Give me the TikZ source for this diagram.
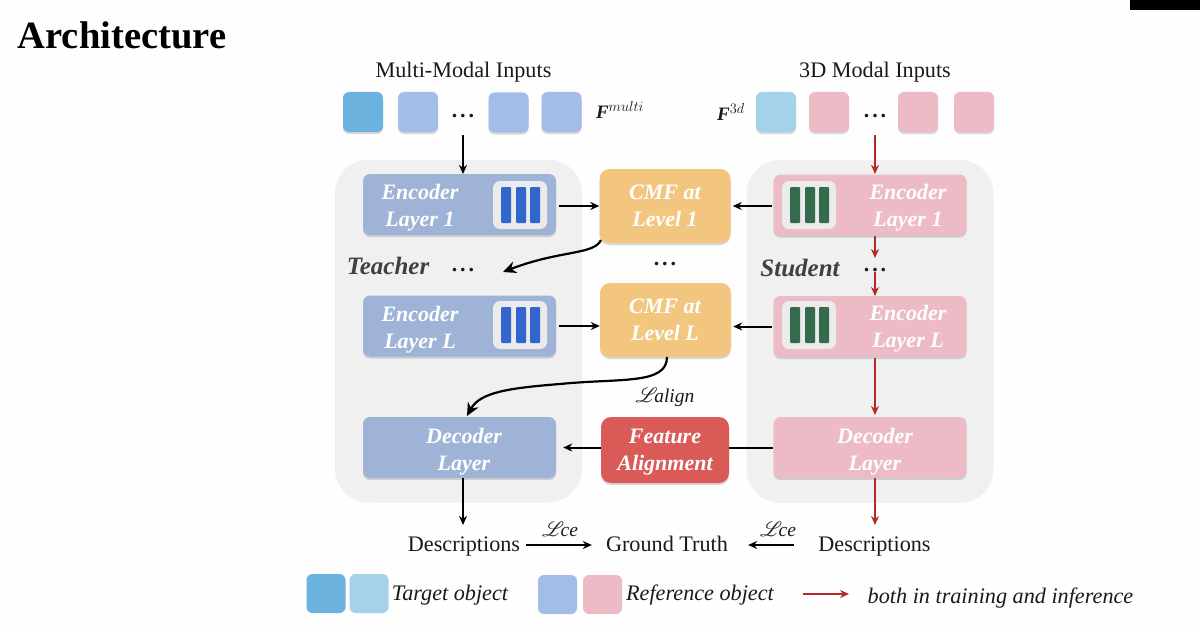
\documentclass[tikz,border=0pt]{standalone}
\usepackage{fontspec}
\usepackage{mathrsfs}
\setmainfont{Liberation Serif}
\usetikzlibrary{arrows.meta,shadows}
\definecolor{cTgtA}{HTML}{6CB2DE}
\definecolor{cTgtB}{HTML}{A5D2EA}
\definecolor{cRefA}{HTML}{A4BDE8}
\definecolor{cRefB}{HTML}{EDBBC6}
\definecolor{cEnc}{HTML}{9FB3D6}
\definecolor{cCmf}{HTML}{F3C680}
\definecolor{cAlign}{HTML}{DA5A58}
\definecolor{cPanel}{HTML}{F0F0F0}
\definecolor{cBlueBar}{HTML}{3366CC}
\definecolor{cGreenBar}{HTML}{336B4C}
\definecolor{cRedLine}{HTML}{B22A2A}
\definecolor{cInk}{HTML}{1A1A1A}
\newcommand{\threedots}{.\kern3pt.\kern3pt.}
\tikzset{
  softshadow/.style={drop shadow={shadow xshift=0pt,shadow yshift=-2pt,opacity=.25,fill=black!60}},
  sq/.style={minimum width=40pt,minimum height=40pt,inner sep=0pt,rounded corners=6pt,softshadow},
  legendsq/.style={minimum width=39pt,minimum height=39pt,inner sep=0pt,rounded corners=6pt},
  panel/.style={fill=cPanel,rounded corners=34pt,minimum width=247pt,minimum height=343pt,inner sep=0pt},
  block/.style={minimum width=193pt,minimum height=61pt,inner sep=0pt,rounded corners=7pt,softshadow},
  midbox/.style={minimum width=131pt,minimum height=74pt,inner sep=0pt,rounded corners=10pt,softshadow},
  iconbg/.style={fill=white!92!black,minimum width=54pt,minimum height=48pt,inner sep=0pt,rounded corners=7pt},
  barbox/.style={minimum width=10pt,minimum height=36pt,inner sep=0pt,rounded corners=1pt},
  boxtxt/.style={text=white,font=\fontsize{22}{27}\selectfont\itshape\bfseries,align=center,inner sep=0pt},
  plain/.style={text=cInk,font=\fontsize{22.2}{24}\selectfont,inner sep=0pt},
  itxt/.style={text=cInk,font=\fontsize{22.2}{24}\selectfont\itshape,inner sep=0pt},
  role/.style={text=black!75,font=\fontsize{25}{28}\selectfont\itshape\bfseries,inner sep=0pt},
  dotstxt/.style={text=cInk,font=\fontsize{22}{24}\selectfont\bfseries,inner sep=0pt},
  losstxt/.style={text=cInk,inner sep=0pt,font=\fontsize{19.5}{22}\selectfont\itshape},
  blk/.style={draw=black,line width=2pt,-{Stealth[length=9pt,width=8pt]}},
  blkc/.style={draw=black,line width=2.2pt,-{Stealth[length=13pt,width=12pt]}},
  redl/.style={draw=cRedLine,line width=2pt,-{Stealth[length=9pt,width=8pt]}},
}
\begin{document}
\begin{tikzpicture}[x=1pt,y=-1pt]
\useasboundingbox (0,0) rectangle (1200,626);
\fill[white!99.5!black] (0,0) rectangle (1200,626);
\fill[black] (1130,0) rectangle (1200,10);

\node[text=black,font=\fontsize{38.6}{42}\selectfont\bfseries,inner sep=0pt] (title) at (122,35) {Architecture};

% panels
\node[panel] (pl) at (458.5,331) {};
\node[panel] (pr) at (870,331.5) {};

% headings
\node[plain] (h1) at (463.5,72.5) {Multi-Modal Inputs};
\node[plain] (h2) at (875,72.5) {3D Modal Inputs};

% input squares
\node[sq,fill=cTgtA] (m1) at (363,112) {};
\node[sq,fill=cRefA] (m2) at (418,112) {};
\node[dotstxt] (mdots) at (463,116) {\threedots};
\node[sq,fill=cRefA] (m3) at (508.5,112.5) {};
\node[sq,fill=cRefA] (m4) at (561.5,112) {};
\node[sq,fill=cTgtB] (s1) at (776,112) {};
\node[sq,fill=cRefB] (s2) at (829,112) {};
\node[dotstxt] (sdots) at (875,116) {\threedots};
\node[sq,fill=cRefB] (s3) at (918,112) {};
\node[sq,fill=cRefB] (s4) at (974,112) {};

\node[text=cInk,inner sep=0pt,font=\fontsize{19}{22}\selectfont] (fm) at (620,110) {{\bfseries\itshape F}$^{multi}$};
\node[text=cInk,inner sep=0pt,font=\fontsize{19}{22}\selectfont] (f3) at (731,112) {{\bfseries\itshape F}$^{3d}$};

% left blocks
\node[block,fill=cEnc] (le1) at (459.5,204.5) {};
\node[block,fill=cEnc] (leL) at (459.5,326) {};
\node[block,fill=cEnc] (ld) at (459.5,447.5) {};
% right blocks
\node[block,fill=cRefB] (re1) at (870,205) {};
\node[block,fill=cRefB] (reL) at (870,326.5) {};
\node[block,fill=cRefB] (rd) at (870,447.5) {};
% mid
\node[midbox,fill=cCmf] (c1) at (665,206) {};
\node[midbox,fill=cCmf] (cL) at (665.5,320) {};
\node[midbox,fill=cAlign,minimum width=128pt,minimum height=66pt] (fa) at (665,450) {};

% icons
\node[iconbg] (il1) at (520,205) {};
\node[barbox,fill=cBlueBar] at (506,205) {};
\node[barbox,fill=cBlueBar] at (521,205) {};
\node[barbox,fill=cBlueBar] at (535,205) {};
\node[iconbg] (ilL) at (520,325) {};
\node[barbox,fill=cBlueBar] at (506,325) {};
\node[barbox,fill=cBlueBar] at (521,325) {};
\node[barbox,fill=cBlueBar] at (535,325) {};
\node[iconbg] (ir1) at (809,205) {};
\node[barbox,fill=cGreenBar] at (795,205) {};
\node[barbox,fill=cGreenBar] at (810,205) {};
\node[barbox,fill=cGreenBar] at (824,205) {};
\node[iconbg] (irL) at (809,325) {};
\node[barbox,fill=cGreenBar] at (795,325) {};
\node[barbox,fill=cGreenBar] at (810,325) {};
\node[barbox,fill=cGreenBar] at (824,325) {};

% box labels
\node[boxtxt] (t1) at (420,208) {Encoder\\Layer 1};
\node[boxtxt] (t2) at (420,330) {Encoder\\Layer L};
\node[boxtxt] (t3) at (464,451.5) {Decoder\\Layer};
\node[boxtxt] (t4) at (908,208) {Encoder\\Layer 1};
\node[boxtxt] (t5) at (908,329) {Encoder\\Layer L};
\node[boxtxt] (t6) at (875,452) {Decoder\\Layer};
\node[boxtxt] (t7) at (665,206) {CMF at\\Level 1};
\node[boxtxt] (t8) at (665,319.5) {CMF at\\Level L};
\node[boxtxt] (t9) at (665,452) {Feature\\Alignment};

% mid labels
\node[role] (teach) at (388,265.5) {Teacher};
\node[dotstxt] (tdots) at (463,270) {\threedots};
\node[dotstxt] (cdots) at (665,264) {\threedots};
\node[role] (stud) at (800,267.5) {Student};
\node[dotstxt] (rdots) at (875,270) {\threedots};
\node[losstxt] (lalign) at (665,397) {$\mathscr{L}$\kern-3.5pt align};

% bottom row
\node[plain,anchor=base] (d1) at (464,551.5) {Descriptions};
\node[plain,anchor=base] (gt) at (667,551.5) {Ground Truth};
\node[plain,anchor=base] (d2) at (874.5,551.5) {Descriptions};
\node[losstxt] (l1) at (560,529) {$\mathscr{L}$\kern-3.5pt ce};
\node[losstxt] (l2) at (778,529) {$\mathscr{L}$\kern-3.5pt ce};

% legend
\node[legendsq,fill=cTgtA] (k1) at (326,593.5) {};
\node[legendsq,fill=cTgtB] (k2) at (369,593.5) {};
\node[itxt] (k3) at (450,595) {Target object};
\node[legendsq,fill=cRefA] (k4) at (557.5,594.5) {};
\node[legendsq,fill=cRefB] (k5) at (602.5,594.5) {};
\node[itxt] (k6) at (700,595) {Reference object};
\coordinate (ka) at (803,594);
\node[itxt] (k7) at (1000.5,598) {both in training and inference};

% connectors
\draw[blk] (463,135) -- (463,174);
\draw[redl] (875,135) -- (875,174);
\draw[blk] ([xshift=3pt]le1.east |- c1.west) -- (c1.west);
\draw[blk] ([xshift=3pt]leL.east) -- (cL.west |- leL.east);
\draw[blk] ([xshift=-1pt]re1.west |- c1.east) -- ([xshift=2pt]c1.east);
\draw[blk] ([xshift=-1pt]reL.west) -- ([xshift=2pt]cL.east |- reL.west);
\draw[blkc] (601,240) .. controls (594,255) and (560,250) .. (503,272);
\draw[blkc] (667,357) .. controls (667,385) and (620,378) .. (560,384) .. controls (510,388) and (480,392) .. (467,416);
\draw[blk] (fa.west |- ld.east) -- ([xshift=7pt]ld.east);
\draw[draw=black,line width=2pt] (rd.west) -- (fa.east |- rd.west);
\draw[blk] (463,478) -- (463,525);
\draw[redl] (875,236) -- (875,258);
\draw[redl] (875,272) -- (875,296);
\draw[redl] (875,358) -- (875,415);
\draw[redl] (875,478) -- (875,525);
\draw[blk,line width=1.5pt] ([xshift=6pt,yshift=6.5pt]d1.base east) -- ([xshift=-14pt,yshift=6.5pt]gt.base west);
\draw[blk,line width=1.5pt] ([xshift=-24pt,yshift=6.5pt]d2.base west) -- ([xshift=20pt,yshift=6.5pt]gt.base east);
\draw[redl,line width=1.5pt] (ka) -- ++(46,0);
\end{tikzpicture}
\end{document}
